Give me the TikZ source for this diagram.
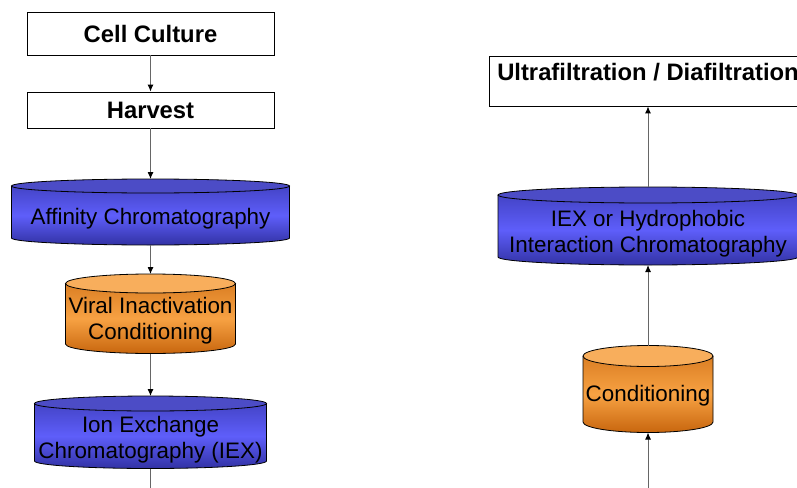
\documentclass[tikz,border=0pt]{standalone}
\usepackage{fontspec}
\setmainfont{Liberation Sans}
\usetikzlibrary{arrows.meta}

\definecolor{drumblue}{HTML}{5E5EFA}
\definecolor{drumbluedark}{HTML}{3232A4}
\definecolor{drumbluetop}{HTML}{4C4CC6}
\definecolor{drumorange}{HTML}{F7A243}
\definecolor{drumorangedark}{HTML}{C8660E}
\definecolor{drumorangetop}{HTML}{F8AE5C}

\tikzset{
  stepbox/.style={draw, line width=0.8pt, font=\fontsize{23.8}{27}\selectfont\bfseries, inner sep=0pt},
  drumtext/.style={font=\fontsize{22.4}{26}\selectfont, align=center, inner sep=0pt},
  flow/.style={draw=black!60, line width=1pt, -{Latex[length=7pt,width=6pt,black]}},
  plainflow/.style={draw=black!60, line width=1pt},
  blueside/.style={top color=drumbluedark!60!drumblue, bottom color=drumbluedark, middle color=drumblue},
  bluetop/.style={fill=drumbluetop},
  orangeside/.style={top color=drumorangedark!60!drumorange, bottom color=drumorangedark, middle color=drumorange},
  orangetop/.style={fill=drumorangetop}
}

% name, x, top y, bottom y, half width, y radius, kind, text y, text
\newcommand\drum[9]{%
  \shade[#7side] (#2-#5,-#3) -- (#2-#5,-#4) arc[start angle=180, end angle=360, x radius=#5pt, y radius=#6pt] -- (#2+#5,-#3) -- cycle;
  \fill[#7top] (#2,-#3) ellipse[x radius=#5pt, y radius=#6pt];
  \draw[line width=0.8pt] (#2-#5,-#3) -- (#2-#5,-#4) arc[start angle=180, end angle=360, x radius=#5pt, y radius=#6pt] -- (#2+#5,-#3);
  \draw[line width=0.8pt] (#2,-#3) ellipse[x radius=#5pt, y radius=#6pt];
  \coordinate (#1-top) at (#2,-#3+#6);
  \coordinate (#1-bot) at (#2,-#4-#6);
  \node[drumtext] (#1) at (#2,-#8) {#9};
}

\begin{document}
\begin{tikzpicture}[x=1pt, y=1pt]
  \clip (0,0) rectangle (797,-487);
  \useasboundingbox (0,0) rectangle (797,-487);

  % left column
  \node[stepbox, minimum width=247pt, minimum height=43pt] (cell) at (150.5,-33.5) {Cell Culture};
  \node[stepbox, minimum width=247pt, minimum height=36pt] (harvest) at (150.5,-110) {Harvest};
  \drum{affinity}{150.5}{186}{238}{139}{7}{blue}{218.5}{Affinity Chromatography}
  \drum{viral}{150.5}{283.5}{344}{85}{9.5}{orange}{320.5}{Viral Inactivation\\Conditioning}
  \drum{iexcol}{150.5}{403.5}{461}{116}{7.5}{blue}{439.5}{Ion Exchange\\Chromatography (IEX)}
  \coordinate (leftend) at (150.5,-490);

  % right column
  \node[stepbox, minimum width=318pt, minimum height=50pt, text height=12pt, text depth=12pt] (ufdf) at (648,-81) {Ultrafiltration / Diafiltration};
  \drum{hic}{648}{195}{257}{150}{8}{blue}{234}{IEX or Hydrophobic\\Interaction Chromatography}
  \drum{cond}{648}{356}{422}{65}{10.5}{orange}{396}{Conditioning}
  \coordinate (rightstart) at (648,-490);

  \draw[flow] (cell) -- (harvest);
  \draw[flow] (harvest) -- (affinity-top);
  \draw[flow] (affinity-bot) -- (viral-top);
  \draw[flow] (viral-bot) -- (iexcol-top);
  \draw[plainflow] (iexcol-bot) -- (leftend);

  \draw[flow] (rightstart) -- (cond-bot);
  \draw[flow] (cond-top) -- (hic-bot);
  \draw[flow] (hic-top) -- (ufdf);
\end{tikzpicture}
\end{document}
